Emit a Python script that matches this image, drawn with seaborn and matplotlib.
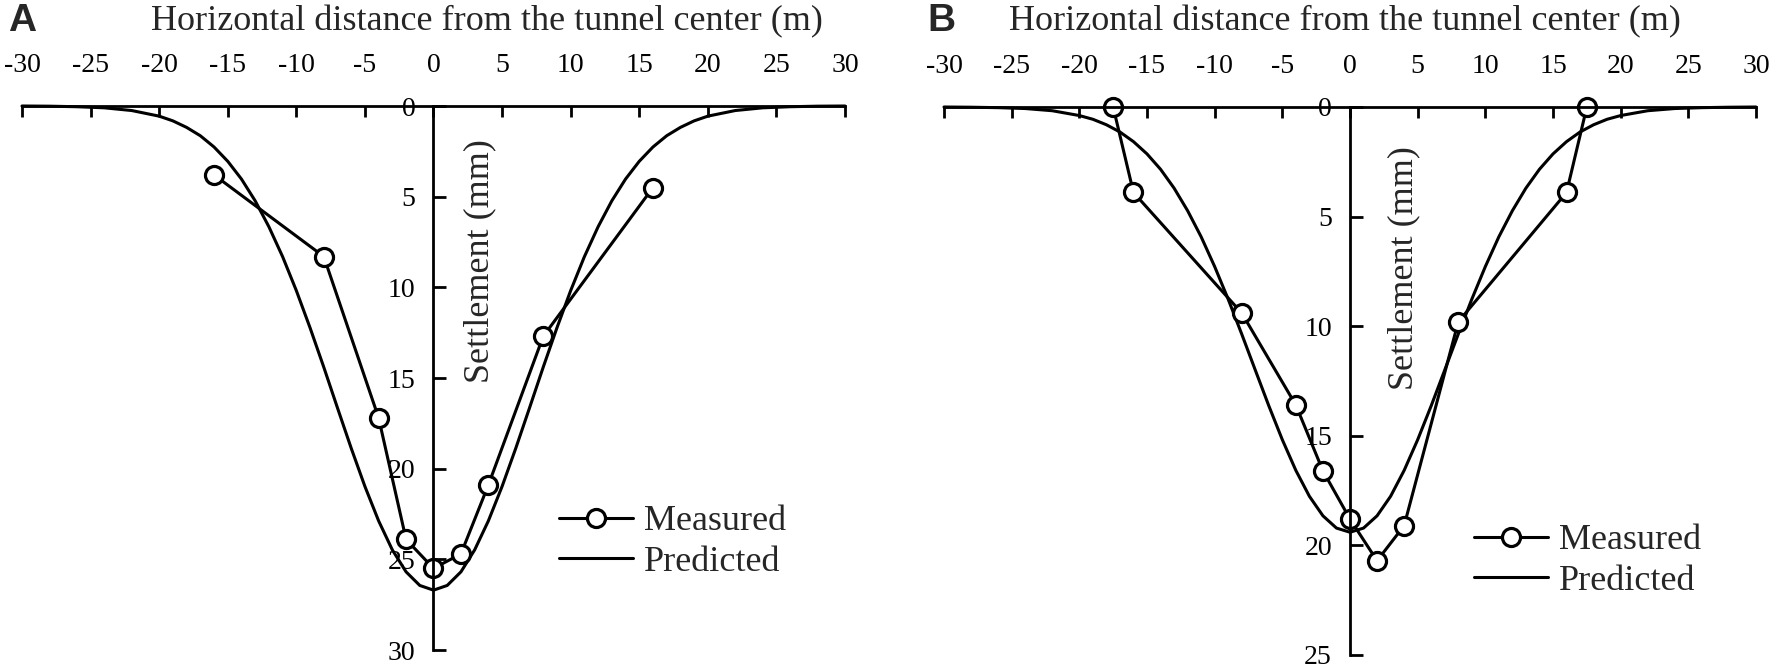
import matplotlib
matplotlib.use("Agg")
import matplotlib.pyplot as plt
import seaborn as sns
import pandas as pd

# ---------------- data ----------------
xticks = [-30, -25, -20, -15, -10, -5, 0, 5, 10, 15, 20, 25, 30]
a_yticks = [0, 5, 10, 15, 20, 25, 30]
b_yticks = [0, 5, 10, 15, 20, 25]

a_meas_x = [-16, -8, -4, -2, 0, 2, 4, 8, 16]
a_meas_y = [3.8, 8.3, 17.2, 23.9, 25.5, 24.7, 20.9, 12.7, 4.5]

b_meas_x = [-17.5, -16, -8, -4, -2, 0, 2, 4, 8, 16, 17.5]
b_meas_y = [0.0, 3.9, 9.4, 13.6, 16.6, 18.8, 20.7, 19.1, 9.8, 3.9, 0.0]

pred_x = [-30, -28, -26, -24, -22, -20, -19, -18, -17, -16, -15, -14, -13, -12, -11,
          -10, -9, -8, -7, -6, -5, -4, -3, -2, -1, 0, 1, 2, 3, 4, 5, 6, 7, 8, 9,
          10, 11, 12, 13, 14, 15, 16, 17, 18, 19, 20, 22, 24, 26, 28, 30]
a_pred_y = [0.0, 0.01, 0.04, 0.10, 0.25, 0.56, 0.82, 1.18, 1.64, 2.26, 3.05, 4.03, 5.23,
            6.66, 8.31, 10.18, 12.23, 14.40, 16.65, 18.87, 20.98, 22.88, 24.48, 25.69,
            26.44, 26.7, 26.44, 25.69, 24.48, 22.88, 20.98, 18.87, 16.65, 14.40, 12.23,
            10.18, 8.31, 6.66, 5.23, 4.03, 3.05, 2.26, 1.64, 1.18, 0.82, 0.56, 0.25,
            0.10, 0.04, 0.01, 0.0]
b_pred_y = [0.0, 0.01, 0.03, 0.07, 0.17, 0.39, 0.56, 0.81, 1.14, 1.58, 2.14, 2.84, 3.70,
            4.73, 5.92, 7.28, 8.77, 10.36, 12.00, 13.63, 15.18, 16.58, 17.76, 18.65,
            19.21, 19.4, 19.21, 18.65, 17.76, 16.58, 15.18, 13.63, 12.00, 10.36, 8.77,
            7.28, 5.92, 4.73, 3.70, 2.84, 2.14, 1.58, 1.14, 0.81, 0.56, 0.39, 0.17,
            0.07, 0.03, 0.01, 0.0]

xlabel_text = "Horizontal distance from the tunnel center (m)"
ylabel_text = "Settlement (mm)"
legend_labels = ["Measured", "Predicted"]

# ---------------- style ----------------
sns.set_style("white")
plt.rcParams["font.family"] = ["Liberation Serif", "DejaVu Serif"]
plt.rcParams["axes.linewidth"] = 2.0

W, H = 1772, 668
fig = plt.figure(figsize=(W / 100, H / 100), dpi=100)

panels = [
    dict(px=(22, 845), py=(106, 650), ylim=30, yt=a_yticks, mx=a_meas_x, my=a_meas_y,
         py_pred=a_pred_y, letter="A", letter_x=8, xl_x=487, yl=(480, 261),
         leg=(559, 542)),
    dict(px=(944, 1756), py=(107, 655), ylim=25, yt=b_yticks, mx=b_meas_x, my=b_meas_y,
         py_pred=b_pred_y, letter="B", letter_x=927, xl_x=1345, yl=(1404, 268),
         leg=(1474, 561)),
]

for p in panels:
    x0, x1 = p["px"]
    y0, y1 = p["py"]
    ax = fig.add_axes([x0 / W, 1 - y1 / H, (x1 - x0) / W, (y1 - y0) / H])
    ax.set_facecolor("none")

    meas = pd.DataFrame({"x": p["mx"], "y": p["my"]})
    pred = pd.DataFrame({"x": pred_x, "y": p["py_pred"]})

    sns.lineplot(data=pred, x="x", y="y", ax=ax, color="black", linewidth=2.2,
                 label=legend_labels[1], sort=False, estimator=None)
    sns.lineplot(data=meas, x="x", y="y", ax=ax, color="black", linewidth=2.2,
                 marker="o", markersize=13, markerfacecolor="white",
                 markeredgecolor="black", markeredgewidth=2.3,
                 label=legend_labels[0], sort=False, estimator=None)
    for ln in ax.lines:
        ln.set_clip_on(False)

    ax.set_xlim(-30, 30)
    ax.set_ylim(p["ylim"], 0)
    ax.set_xticks(xticks)
    ax.set_xticklabels([str(t) for t in xticks])
    ax.set_yticks(p["yt"])
    ax.set_yticklabels([str(t) for t in p["yt"]])

    ax.xaxis.tick_top()
    ax.xaxis.set_label_position("top")
    ax.spines["bottom"].set_visible(False)
    ax.spines["right"].set_visible(False)
    ax.spines["top"].set_visible(True)
    ax.spines["left"].set_position(("data", 0))
    for s in ("top", "left"):
        ax.spines[s].set_color("black")
        ax.spines[s].set_linewidth(2.0)

    ax.tick_params(axis="x", which="both", direction="in", length=8, width=2.0,
                   pad=20, labelsize=20, colors="black", top=True, bottom=False)
    ax.tick_params(axis="y", which="both", direction="in", length=9, width=2.0,
                   pad=13, labelsize=20, colors="black", left=True, right=False)

    ax.set_xlabel(xlabel_text, fontsize=26)
    ax.xaxis.label.set_va("center")
    ax.xaxis.set_label_coords((p["xl_x"] - x0) / (x1 - x0), (y1 - 22) / (y1 - y0))

    ax.set_ylabel(ylabel_text, fontsize=26, rotation=90)
    ax.yaxis.label.set_va("center")
    ax.yaxis.label.set_ha("center")
    ax.yaxis.set_label_coords((p["yl"][0] - x0) / (x1 - x0), (y1 - p["yl"][1]) / (y1 - y0))

    handles, labels = ax.get_legend_handles_labels()
    order = [labels.index(legend_labels[0]), labels.index(legend_labels[1])]
    ax.legend([handles[i] for i in order], [labels[i] for i in order],
              loc="center left", bbox_to_anchor=(p["leg"][0] / W, 1 - p["leg"][1] / H),
              bbox_transform=fig.transFigure, frameon=False, fontsize=26,
              handlelength=2.05, handletextpad=0.3, labelspacing=0.2, borderpad=0,
              borderaxespad=0)

    fig.text(p["letter_x"] / W, 1 - 21 / H, p["letter"], fontsize=28, fontweight="bold",
             family=["Liberation Sans", "DejaVu Sans"], ha="left", va="center")

fig.savefig("out.png", dpi=100)
